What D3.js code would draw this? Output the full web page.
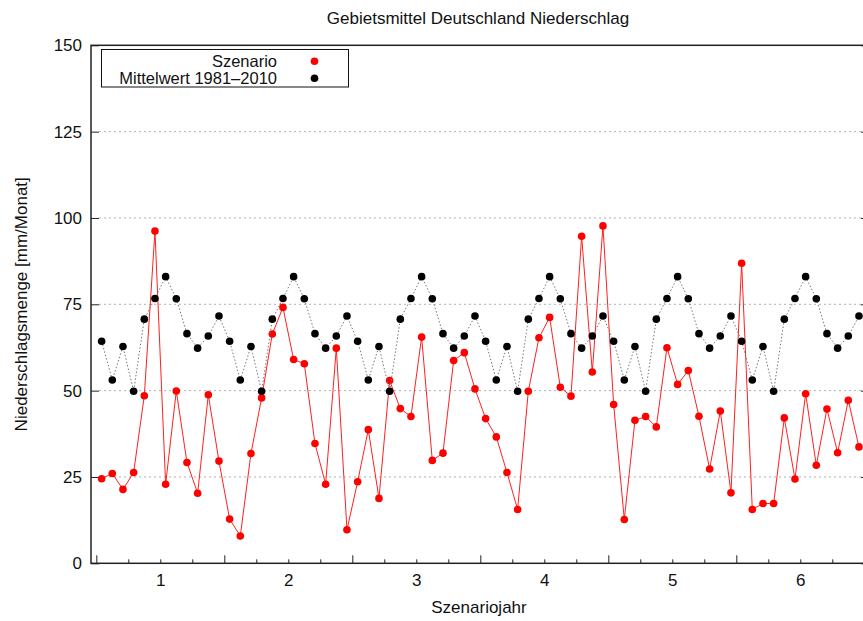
<!doctype html>
<html lang="de">
<head>
  <meta charset="utf-8">
  <title>Gebietsmittel Deutschland Niederschlag - D3</title>
  <style>
    html, body { margin: 0; padding: 0; background: #fff; }
    svg { display: block; font-family: "Liberation Sans", Arial, sans-serif; }
  </style>
</head>
<body>
  <svg></svg>

  <script src="https://cdn.jsdelivr.net/npm/d3@7"></script>
  <script>
    // Monatswerte Szenario (72 Monate = 6 Szenariojahre)
    const szenario = [
      24.5, 26.0, 21.4, 26.3, 48.5, 96.2, 22.9, 49.9, 29.2, 20.3, 48.8, 29.6,
      12.8, 7.9, 31.8, 47.9, 66.4, 74.1, 59.0, 57.8, 34.7, 22.9, 62.3, 9.7,
      23.6, 38.7, 18.8, 52.9, 44.8, 42.5, 65.5, 29.8, 31.9, 58.7, 61.0, 50.5,
      41.9, 36.6, 26.3, 15.6, 49.8, 65.3, 71.2, 51.0, 48.4, 94.7, 55.4, 97.7,
      46.0, 12.7, 41.4, 42.5, 39.5, 62.4, 51.8, 55.8, 42.6, 27.3, 44.1, 20.4,
      86.9, 15.6, 17.3, 17.3, 42.1, 24.4, 49.1, 28.4, 44.7, 32.0, 47.2, 33.7
    ];

    // Mittelwert 1981-2010 je Kalendermonat (Jan..Dez), jedes Jahr gleich
    const mittelwertMonat = [64.3, 53.1, 62.8, 49.8, 70.7, 76.7, 83.0, 76.6, 66.5, 62.3, 65.8, 71.6];

    const jahre = [1, 2, 3, 4, 5, 6];
    const yTicks = [0, 25, 50, 75, 100, 125, 150];
    const gridTicks = [25, 50, 75, 100, 125];

    const width = 863;
    const height = 621;
    const frame = { left: 91, right: 869, top: 45.3, bottom: 563.3 };
    const fontSize = 17;

    const svg = d3.select('svg')
      .attr('width', width)
      .attr('height', height)
      .attr('viewBox', [0, 0, width, height]);

    const x = d3.scaleLinear().domain([0.5, 6.5]).range([96.3, 864.3]);
    const y = d3.scaleLinear().domain([0, 150]).range([frame.bottom, frame.top]);

    // Monat i liegt in der Mitte seines Intervalls
    const monthX = i => 0.5 + (i + 0.5) / 12;

    const szenarioData = szenario.map((v, i) => [monthX(i), v]);
    const mittelData = szenario.map((v, i) => [monthX(i), mittelwertMonat[i % 12]]);

    // Gitterlinien
    svg.append('g')
      .selectAll('line')
      .data(gridTicks)
      .join('line')
      .attr('x1', frame.left + 8)
      .attr('x2', frame.right - 8)
      .attr('y1', d => y(d))
      .attr('y2', d => y(d))
      .attr('stroke', '#b0b0b0')
      .attr('stroke-width', 1)
      .attr('stroke-dasharray', '2,3');

    // Achsen (Ticks nach innen wie bei gnuplot)
    const yearBounds = d3.range(0.5, 6.51, 1);
    const quarters = d3.range(0.75, 6.5, 0.25).filter(v => Math.abs(v % 1 - 0.5) > 1e-6);

    svg.append('g')
      .attr('transform', `translate(0,${frame.bottom})`)
      .call(d3.axisBottom(x).tickValues(yearBounds).tickSize(-8).tickFormat(''))
      .call(g => g.select('.domain').remove());

    svg.append('g')
      .attr('transform', `translate(0,${frame.bottom})`)
      .call(d3.axisBottom(x).tickValues(quarters).tickSize(-4).tickFormat(''))
      .call(g => g.select('.domain').remove());

    svg.append('g')
      .attr('transform', `translate(0,${frame.bottom})`)
      .call(d3.axisBottom(x).tickValues(jahre).tickSize(0).tickPadding(11).tickFormat(d3.format('d')))
      .call(g => g.select('.domain').remove())
      .call(g => g.selectAll('text').attr('font-size', fontSize).attr('fill', '#111').attr('font-family', null));

    svg.append('g')
      .attr('transform', `translate(${frame.left},0)`)
      .call(d3.axisLeft(y).tickValues(yTicks).tickSize(-8).tickPadding(9))
      .call(g => g.select('.domain').remove())
      .call(g => g.selectAll('text').attr('font-size', fontSize).attr('fill', '#111').attr('font-family', null));

    svg.append('g')
      .attr('transform', `translate(${frame.right},0)`)
      .call(d3.axisRight(y).tickValues(yTicks).tickSize(-8).tickFormat(''))
      .call(g => g.select('.domain').remove());

    svg.selectAll('.tick line').attr('stroke', '#222');

    // Rahmen
    svg.append('rect')
      .attr('x', frame.left)
      .attr('y', frame.top)
      .attr('width', frame.right - frame.left)
      .attr('height', frame.bottom - frame.top)
      .attr('fill', 'none')
      .attr('stroke', '#222')
      .attr('stroke-width', 1.5);

    const line = d3.line().x(d => x(d[0])).y(d => y(d[1]));

    // Szenario
    svg.append('path')
      .datum(szenarioData)
      .attr('d', line)
      .attr('fill', 'none')
      .attr('stroke', '#ff2020')
      .attr('stroke-width', 1);

    svg.append('g')
      .selectAll('circle')
      .data(szenarioData)
      .join('circle')
      .attr('cx', d => x(d[0]))
      .attr('cy', d => y(d[1]))
      .attr('r', 3.8)
      .attr('fill', '#ff0000');

    // Mittelwert 1981-2010
    svg.append('path')
      .datum(mittelData)
      .attr('d', line)
      .attr('fill', 'none')
      .attr('stroke', '#777')
      .attr('stroke-width', 1)
      .attr('stroke-dasharray', '1.5,2');

    svg.append('g')
      .selectAll('circle')
      .data(mittelData)
      .join('circle')
      .attr('cx', d => x(d[0]))
      .attr('cy', d => y(d[1]))
      .attr('r', 3.8)
      .attr('fill', '#000');

    // Legende
    const legend = svg.append('g');
    legend.append('rect')
      .attr('x', 101.5)
      .attr('y', 49.5)
      .attr('width', 247)
      .attr('height', 37.5)
      .attr('fill', '#fff')
      .attr('stroke', '#111')
      .attr('stroke-width', 1);

    const legendItems = [
      { label: 'Szenario', color: '#ff0000' },
      { label: 'Mittelwert 1981\u20132010', color: '#000' }
    ];

    legendItems.forEach((item, i) => {
      const cy = 61.2 + i * 17;
      legend.append('text')
        .attr('x', 277)
        .attr('y', cy)
        .attr('dy', '0.35em')
        .attr('text-anchor', 'end')
        .attr('font-size', 16.5)
        .attr('fill', '#111')
        .text(item.label);
      legend.append('circle')
        .attr('cx', 314.5)
        .attr('cy', cy)
        .attr('r', 3.8)
        .attr('fill', item.color);
    });

    // Titel und Achsenbeschriftungen
    svg.append('text')
      .attr('x', 478)
      .attr('y', 24)
      .attr('text-anchor', 'middle')
      .attr('font-size', fontSize)
      .attr('fill', '#111')
      .text('Gebietsmittel Deutschland Niederschlag');

    svg.append('text')
      .attr('x', 479)
      .attr('y', 613)
      .attr('text-anchor', 'middle')
      .attr('font-size', fontSize)
      .attr('fill', '#111')
      .text('Szenariojahr');

    svg.append('text')
      .attr('transform', `translate(27,${(frame.top + frame.bottom) / 2}) rotate(-90)`)
      .attr('text-anchor', 'middle')
      .attr('font-size', fontSize)
      .attr('fill', '#111')
      .text('Niederschlagsmenge [mm/Monat]');
  </script>
</body>
</html>
